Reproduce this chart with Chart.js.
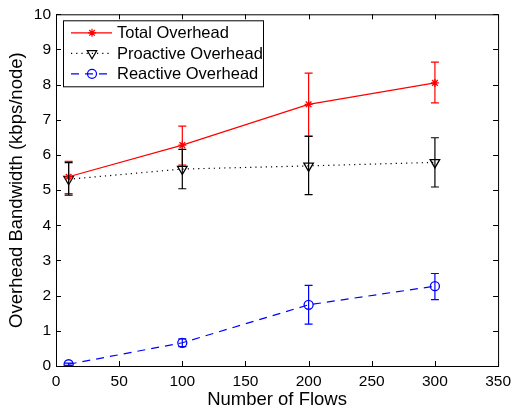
<!DOCTYPE html>
<html>
<head>
<meta charset="utf-8">
<script src="https://cdn.jsdelivr.net/npm/chart.js@4"></script>
<style>
  html, body { margin: 0; padding: 0; background: #fff; }
  #wrap { width: 517px; height: 409px; }
</style>
</head>
<body>
<div id="wrap"><canvas id="chart" width="517" height="409"></canvas></div>
<script>
// number of flows on the x axis
const flows = [10, 100, 200, 300];

// total overhead (kbps/node) with error bar ends
const totalOverhead = [5.38, 6.28, 7.44, 8.05];
const totalLow = [4.9, 5.71, 6.54, 7.48];
const totalHigh = [5.82, 6.82, 8.33, 8.64];

// proactive overhead
const proactiveOverhead = [5.31, 5.6, 5.69, 5.79];
const proactiveLow = [4.86, 5.04, 4.87, 5.09];
const proactiveHigh = [5.78, 6.16, 6.53, 6.49];

// reactive overhead
const reactiveOverhead = [0.05, 0.66, 1.74, 2.27];
const reactiveLow = [0.02, 0.55, 1.19, 1.89];
const reactiveHigh = [0.08, 0.77, 2.29, 2.63];

const xTicks = [0, 50, 100, 150, 200, 250, 300, 350];
const yTicks = [0, 1, 2, 3, 4, 5, 6, 7, 8, 9, 10];

const FONT = "'Liberation Sans', Arial, Helvetica, sans-serif";

const toPoints = (ys) => flows.map((x, i) => ({ x: x, y: ys[i] }));

const series = [
  {
    label: "Total Overhead",
    data: toPoints(totalOverhead),
    low: totalLow,
    high: totalHigh,
    borderColor: "#ff0000",
    borderDash: [],
    pointStyle: "star",
    pointRadius: 4,
    rotation: 0,
  },
  {
    label: "Proactive Overhead",
    data: toPoints(proactiveOverhead),
    low: proactiveLow,
    high: proactiveHigh,
    borderColor: "#000000",
    borderDash: [1.2, 4],
    pointStyle: "triangle",
    pointRadius: 5.5,
    rotation: 180,
  },
  {
    label: "Reactive Overhead",
    data: toPoints(reactiveOverhead),
    low: reactiveLow,
    high: reactiveHigh,
    borderColor: "#0000ff",
    borderDash: [8, 6],
    pointStyle: "circle",
    pointRadius: 4.5,
    rotation: 0,
  },
];

// error bars drawn from the data arrays through the scales
const errorBars = {
  id: "errorBars",
  afterDatasetsDraw(chart) {
    const ctx = chart.ctx;
    const xs = chart.scales.x;
    const ys = chart.scales.y;
    ctx.save();
    chart.data.datasets.forEach((ds) => {
      ctx.strokeStyle = ds.borderColor;
      ctx.lineWidth = 1.2;
      ctx.setLineDash([]);
      ds.data.forEach((p, i) => {
        const x = xs.getPixelForValue(p.x);
        const y1 = ys.getPixelForValue(ds.low[i]);
        const y2 = ys.getPixelForValue(ds.high[i]);
        ctx.beginPath();
        ctx.moveTo(x, y1);
        ctx.lineTo(x, y2);
        ctx.moveTo(x - 4, y1);
        ctx.lineTo(x + 4, y1);
        ctx.moveTo(x - 4, y2);
        ctx.lineTo(x + 4, y2);
        ctx.stroke();
      });
    });
    ctx.restore();
  },
};

// MATLAB-like frame with inward ticks, plus the boxed legend
const frameAndLegend = {
  id: "frameAndLegend",
  afterDraw(chart) {
    const ctx = chart.ctx;
    const a = chart.chartArea;
    const xs = chart.scales.x;
    const ys = chart.scales.y;
    ctx.save();
    ctx.strokeStyle = "#000";
    ctx.lineWidth = 1;
    ctx.setLineDash([]);
    ctx.strokeRect(a.left + 0.5, a.top + 0.5, a.right - a.left, a.bottom - a.top);
    ctx.beginPath();
    xTicks.forEach((v) => {
      const x = Math.round(xs.getPixelForValue(v)) + 0.5;
      ctx.moveTo(x, a.bottom);
      ctx.lineTo(x, a.bottom - 5);
      ctx.moveTo(x, a.top);
      ctx.lineTo(x, a.top + 5);
    });
    yTicks.forEach((v) => {
      const y = Math.round(ys.getPixelForValue(v)) + 0.5;
      ctx.moveTo(a.left, y);
      ctx.lineTo(a.left + 5, y);
      ctx.moveTo(a.right, y);
      ctx.lineTo(a.right - 5, y);
    });
    ctx.stroke();

    // legend
    const bx = a.left + 7, by = a.top + 6, bw = 200, bh = 66;
    ctx.fillStyle = "#fff";
    ctx.fillRect(bx, by, bw, bh);
    ctx.strokeStyle = "#000";
    ctx.strokeRect(bx + 0.5, by + 0.5, bw, bh);
    ctx.font = "16.5px " + FONT;
    ctx.textBaseline = "middle";
    chart.data.datasets.forEach((ds, i) => {
      const y = by + 12.5 + i * 20.5;
      ctx.strokeStyle = ds.borderColor;
      ctx.lineWidth = 1.2;
      ctx.setLineDash(ds.borderDash);
      ctx.beginPath();
      ctx.moveTo(bx + 8, y);
      ctx.lineTo(bx + 49, y);
      ctx.stroke();
      ctx.setLineDash([]);
      ctx.fillStyle = "rgba(0,0,0,0)";
      Chart.helpers.drawPoint(ctx, {
        pointStyle: ds.pointStyle,
        radius: ds.pointRadius,
        rotation: ds.rotation,
        borderWidth: 1.3,
      }, bx + 29, y);
      ctx.fillStyle = "#000";
      ctx.fillText(ds.label, bx + 54, y + 1);
    });
    ctx.restore();
  },
};

new Chart(document.getElementById("chart"), {
  type: "line",
  data: {
    datasets: series.map((s) => ({
      label: s.label,
      data: s.data,
      low: s.low,
      high: s.high,
      borderColor: s.borderColor,
      backgroundColor: s.borderColor,
      borderWidth: 1.2,
      borderDash: s.borderDash,
      pointStyle: s.pointStyle,
      pointRadius: s.pointRadius,
      pointRotation: s.rotation,
      rotation: s.rotation,
      pointBorderColor: s.borderColor,
      pointBackgroundColor: "rgba(0,0,0,0)",
      pointBorderWidth: 1.3,
      tension: 0,
      fill: false,
    })),
  },
  options: {
    responsive: false,
    animation: false,
    layout: { padding: { top: 14, right: 15, left: 0, bottom: 0 } },
    plugins: { legend: { display: false }, tooltip: { enabled: false } },
    scales: {
      x: {
        type: "linear",
        min: 0,
        max: 350,
        afterBuildTicks: (scale) => { scale.ticks = xTicks.map((v) => ({ value: v })); },
        afterFit: (scale) => { scale.height = 43; },
        grid: { display: false, drawTicks: false },
        border: { display: false },
        ticks: { color: "#000", font: { family: FONT, size: 15.5 }, padding: 6, maxRotation: 0 },
        title: { display: true, text: "Number of Flows", color: "#000", font: { family: FONT, size: 18.5, lineHeight: 0.97 }, padding: 0 },
      },
      y: {
        min: 0,
        max: 10,
        afterBuildTicks: (scale) => { scale.ticks = yTicks.map((v) => ({ value: v })); },
        afterFit: (scale) => { scale.width = 56; },
        grid: { display: false, drawTicks: false },
        border: { display: false },
        ticks: { color: "#000", font: { family: FONT, size: 15.5 }, padding: 5 },
        title: { display: true, text: "Overhead Bandwidth (kbps/node)", color: "#000", font: { family: FONT, size: 18.5, lineHeight: 1.84 }, padding: 0 },
      },
    },
  },
  plugins: [errorBars, frameAndLegend],
});
</script>
</body>
</html>
